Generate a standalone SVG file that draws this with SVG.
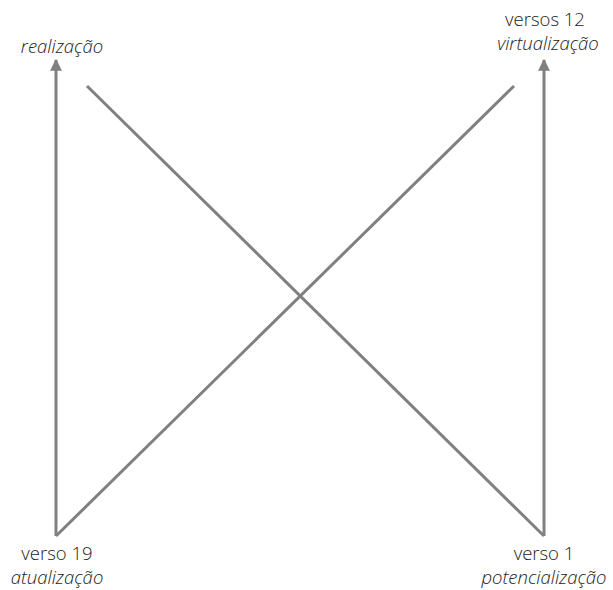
<svg xmlns="http://www.w3.org/2000/svg" width="613" height="590" viewBox="0 0 613 590">
<style>
.ln{stroke:#808080;stroke-width:3;fill:none;stroke-linecap:butt;stroke-linejoin:miter}
text{font-family:"Open Sans","Liberation Sans",sans-serif;font-size:18.5px;fill:#222;text-anchor:middle;font-weight:300}
.it{font-style:italic}
</style>
<defs>
<marker id="ah" viewBox="0 0 10 10" refX="9" refY="5" markerWidth="4" markerHeight="4" orient="auto" markerUnits="strokeWidth">
<path d="M0,0 L10,5 L0,10 z" fill="#808080"/>
</marker>
</defs>
<g id="connectors">
<path class="ln" d="M56,536 L56,60" marker-end="url(#ah)"/>
<path class="ln" d="M544,536 L544,60" marker-end="url(#ah)"/>
<path class="ln" d="M56,536 L514,86"/>
<path class="ln" d="M87,86 L544,536"/>
</g>
<g id="realizacao"><text class="it" x="62" y="53">realização</text></g>
<g id="virtualizacao"><text x="545" y="26">versos 12</text><text class="it" x="548" y="50">virtualização</text></g>
<g id="atualizacao"><text x="57" y="560">verso 19</text><text class="it" x="57" y="584">atualização</text></g>
<g id="potencializacao"><text x="544" y="560">verso 1</text><text class="it" x="544" y="584">potencialização</text></g>
</svg>
